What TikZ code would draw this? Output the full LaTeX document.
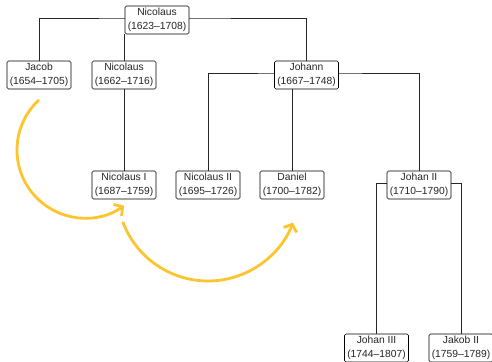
\documentclass[tikz,border=0pt]{standalone}
\usepackage{fontspec}
\setmainfont{Liberation Sans}
\usetikzlibrary{arrows.meta,backgrounds,calc}
\definecolor{arr}{RGB}{253,196,45}
\begin{document}
\begin{tikzpicture}[x=1pt,y=1pt,
 person/.style={draw=black, line width=0.6pt, rounded corners=1.5pt, fill=white, text=black!85, minimum width=64pt, minimum height=28pt, inner sep=0pt, align=center, font=\fontsize{10.3}{14.3}\selectfont},
 link/.style={draw=black!85, line width=0.8pt},
 flow/.style={draw=arr, line width=2.8pt, line cap=round, -{Straight Barb[length=6pt,width=14pt]}}]
\useasboundingbox (0,0) rectangle (492,361);
\node[person] (n0) at (157,341) {Nicolaus\\(1623–1708)};
\node[person] (jacob) at (39,286) {Jacob\\(1654–1705)};
\node[person] (nic) at (124,286) {Nicolaus\\(1662–1716)};
\node[person] (johann) at (306.5,286) {Johann\\(1667–1748)};
\node[person] (nic1) at (124,176) {Nicolaus I\\(1687–1759)};
\node[person] (nic2) at (208,176) {Nicolaus II\\(1695–1726)};
\node[person] (daniel) at (292,176) {Daniel\\(1700–1782)};
\node[person] (johan2) at (419,176) {Johan II\\(1710–1790)};
\node[person] (johan3) at (376.5,13) {Johan III\\(1744–1807)};
\node[person] (jakob2) at (461,13) {Jakob II\\(1759–1789)};
\begin{scope}[on background layer]
\draw[link] (jacob.north) |- ([yshift=2pt]n0.center) -| (johann.north);
\draw[link] (n0.south -| nic.north) -- (nic.north);
\draw[link] (nic.south) -- (nic1.north);
\draw[link] (nic2.north) |- ([yshift=2pt]johann.center) -| (johan2.north);
\draw[link] (johann.south -| daniel.north) -- (daniel.north);
\draw[link] (johan3.north) |- ([yshift=2pt]johan2.center) -| (jakob2.north);
\end{scope}
\coordinate (c1) at (85,211);
\coordinate (c2) at (208,171);
\draw[flow] ($(c1)+(133:68)$) arc[start angle=133, end angle=305, radius=68];
\draw[flow] ($(c2)+(201:91)$) arc[start angle=201, end angle=339, radius=91];
\end{tikzpicture}
\end{document}
